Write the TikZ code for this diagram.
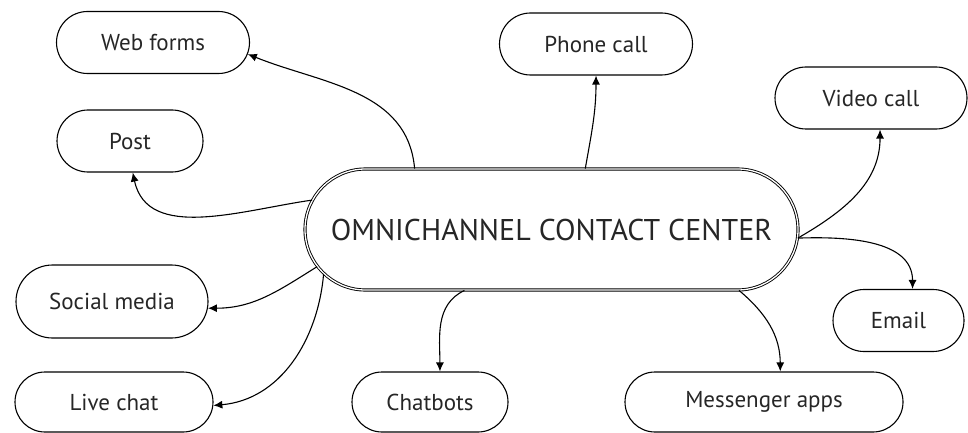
\documentclass[tikz,border=0pt]{standalone}
\usepackage{fontspec}
\setmainfont{PT Sans}
\usetikzlibrary{shapes.misc,arrows.meta}
\tikzset{
  channel/.style={rounded rectangle, draw, line width=1.1pt, inner sep=0pt,
    minimum height=62pt, text=black!85, font=\fontsize{23}{27}\selectfont},
  centre/.style={rounded rectangle, draw, double, double distance=1.3pt,
    line width=0.9pt, inner sep=0pt, text=black!85, font=\fontsize{30}{35}\selectfont},
  link/.style={line width=1.1pt, -{Latex[length=9pt,width=8pt]}}
}
\begin{document}
\begin{tikzpicture}[x=1pt,y=1pt]
  \useasboundingbox (0,0) rectangle (968,-433);
  % hub
  \node[centre, minimum width=493pt, minimum height=121pt] (hub) at (551.5,-229.5) {OMNICHANNEL CONTACT CENTER};
  % channels
  \node[channel, minimum width=193pt] (web) at (153,-42.5) {Web forms};
  \node[channel, minimum width=146pt] (post) at (130,-141) {Post};
  \node[channel, minimum width=193pt] (phone) at (596,-44) {Phone call};
  \node[channel, minimum width=192pt] (video) at (871,-98) {Video call};
  \node[channel, minimum width=131pt] (email) at (898.5,-320.5) {Email};
  \node[channel, minimum width=192pt, minimum height=73pt] (social) at (112,-301.5) {Social media};
  \node[channel, minimum width=198pt, minimum height=60pt] (livechat) at (114,-402) {Live chat};
  \node[channel, minimum width=156pt, minimum height=60pt] (chatbots) at (430,-402) {Chatbots};
  \node[channel, minimum width=278pt, minimum height=60pt] (messenger) at (764,-402) {Messenger apps};
  % links
  \draw[link] (hub.156) to[out=95, in=-22] (web.-7);
  \draw[link] (hub.173) to[out=188, in=-78] (post.-85);
  \draw[link] (hub.61) to[out=80, in=-90] (phone.south);
  \draw[link] (hub.-2.4) to[out=30, in=-90] (video.-74);
  \draw[link] (hub.-2.4) to[out=2, in=90] (email.66);
  \draw[link] (hub.189) to[out=212, in=0] (social.-4);
  \draw[link] (hub.191) to[out=265, in=5] (livechat.-2);
  \draw[link] (hub.215) to[out=205, in=90] (chatbots.72);
  \draw[link] (hub.342) to[out=-40, in=90] (messenger.62);
\end{tikzpicture}
\end{document}
